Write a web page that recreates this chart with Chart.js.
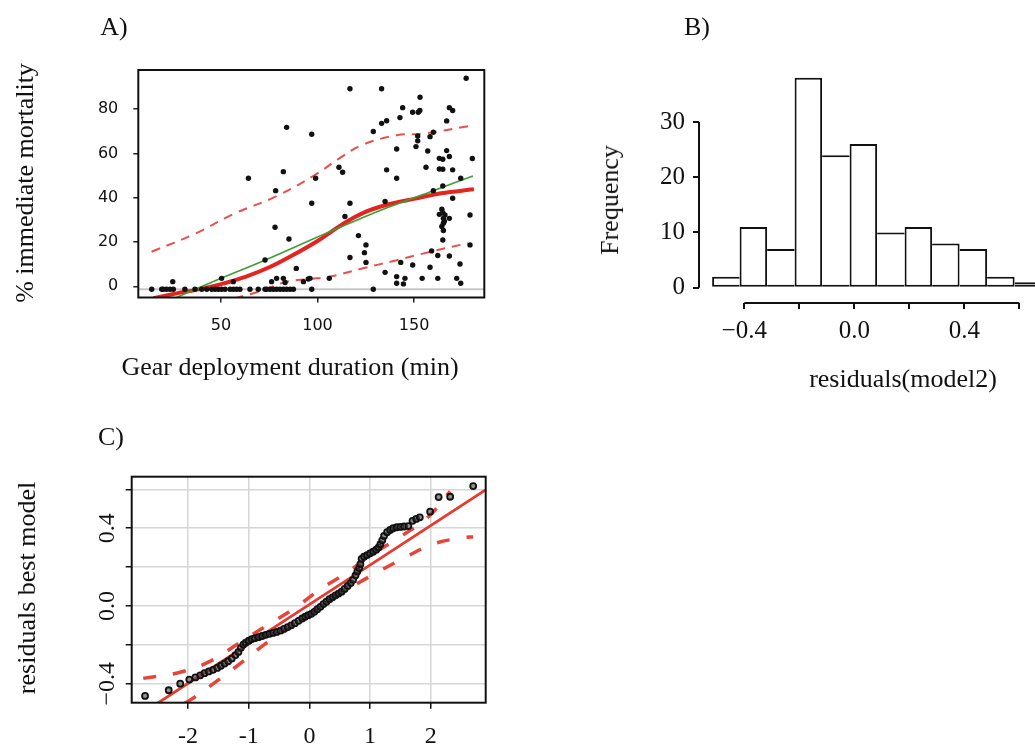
<!DOCTYPE html>
<html>
<head>
<meta charset="utf-8">
<script src="https://cdn.jsdelivr.net/npm/chart.js@4.4.1/dist/chart.umd.min.js"></script>
<style>
  html, body { margin: 0; padding: 0; background: #fff; overflow: hidden; }
  body { width: 1035px; height: 744px; position: relative; font-family: "Liberation Serif", serif; color: #111; }
  canvas { position: absolute; }
  .t { position: absolute; white-space: nowrap; line-height: 1; font-size: 26px; transform: translate(-50%, -50%); }
  .rot { transform: translate(-50%, -50%) rotate(-90deg); }
</style>
</head>
<body>
<canvas id="chartA" width="520" height="400" style="left:0;top:0"></canvas>
<canvas id="chartB" width="455" height="400" style="left:590px;top:0"></canvas>
<canvas id="chartC" width="520" height="324" style="left:0;top:420px"></canvas>

<div class="t" style="left:114px;top:27px">A)</div>
<div class="t" style="left:697px;top:27px">B)</div>
<div class="t" style="left:111px;top:437px">C)</div>
<div class="t rot" style="left:25px;top:183px">% immediate mortality</div>
<div class="t" style="left:290px;top:367px">Gear deployment duration (min)</div>
<div class="t rot" style="left:610px;top:200px">Frequency</div>
<div class="t" style="left:903px;top:379px">residuals(model2)</div>
<div class="t rot" style="left:27px;top:588px">residuals best model</div>

<script>
'use strict';

// ---- A) mortality vs deployment duration ----
const mortX = [
  14.1, 19.3, 20.1, 21.8, 23.6, 25.3, 31.3, 36.5, 40, 42.6, 45.2, 46.9, 48.6, 50.3, 52.1, 54.7,
  56.4, 58.1, 59.8, 65, 69.3, 72.8, 73.7, 75.4, 77.1, 78.8, 80.6, 82.3, 84, 85.8, 87.5, 97, 128.9,
  25, 177, 116.8, 133.2, 153.1, 144.1, 149.3, 152.2, 153, 168.3, 170, 133.2, 135.8, 142.7, 166.9,
  84, 97, 128.9, 151.9, 151.9, 151, 141, 157.1, 158.3, 160, 166.9, 163.1, 164.9, 168.3, 180.2,
  111.1, 113, 82.3, 64.2, 99, 135.8, 141, 156.2, 163.1, 164.9, 170, 174.2, 78.3, 160, 164.9,
  97, 116.8, 135, 170, 164.4, 164.9, 166, 165.2, 165.2, 164.4, 165.2, 165.7, 163.1, 168.3, 179,
  114.2, 78, 121.2, 85.2, 125.1, 124.3, 125.1, 164.9, 179, 72.8, 116.8, 143.1, 149.3, 159.1,
  162.3, 158.3, 168.3, 173.8, 89, 135, 141, 145.3, 141, 144.5, 154.2, 162.3, 172.1, 174.2,
  56.4, 50.3, 76.2, 78.8, 82.3, 83.2, 92.7, 95.2, 96.1, 106.1
];
const mortY = [
  -1.3, -1.3, -1.3, -1.3, -1.3, -1.3, -1.3, -1.3, -1.3, -1.3, -1.3, -1.3, -1.3, -1.3, -1.3, -1.3,
  -1.3, -1.3, -1.3, -1.3, -1.3, -1.3, -1.3, -1.3, -1.3, -1.3, -1.3, -1.3, -1.3, -1.3, -1.3, -1.3, -1.3,
  2.1, 94, 89.2, 89.2, 85.4, 80.7, 78.6, 78.6, 79.4, 80.7, 79.4, 73.6, 74.8, 76.2, 74.7,
  71.8, 68.7, 69.9, 67.9, 65.7, 63.1, 62, 61.1, 67.6, 69.6, 61.3, 57.8, 57.4, 58.6, 57.7,
  53.8, 51.5, 51.8, 48.8, 48.8, 52.6, 48.8, 53.8, 53, 52.9, 52.6, 48.8, 43.2, 43.2, 45.3,
  37.5, 37.5, 38.3, 39.8, 34.8, 33.3, 32.2, 30.7, 28.5, 27, 25.2, 29.4, 32.5, 30.7, 32.2,
  31.5, 26.7, 22.9, 21.4, 18.7, 15.2, 10.8, 20.9, 18.7, 11.9, 13, 10.8, 9.6, 16,
  13.9, 8.6, 13.7, 10.1, 8.1, 6.3, 4.4, 3.6, 1.4, 1.1, 3.6, 3.6, 3.6, 1.4,
  2.1, 3.6, 2.1, 3.6, 3.6, 1.7, 2.1, 3.3, 3.6, 3.6
];
const fitX = [15, 27, 37, 50, 63, 75, 86, 100, 112, 124, 138, 150, 164, 181];
const fitY = [-5.4, -3.2, -1.6, 1, 4.4, 8.6, 13.5, 20.5, 27.5, 33.3, 37.3, 39.5, 42, 43.8];
const linX = [27, 50, 73, 100, 116, 137, 160, 180.5];
const linY = [-5, 3.6, 11.9, 22.3, 28.3, 35.8, 43.2, 49.8];
const upX = [14, 37, 56, 79, 99, 112, 123, 141, 155, 178];
const upY = [15.6, 23.9, 32.5, 40.8, 50.5, 58.2, 63.8, 68.2, 69, 72.3];
const loX = [57, 72, 84, 96, 106.5, 122, 141, 158, 178];
const loY = [-5.5, -1.7, 2.1, 3.3, 4.4, 7.8, 11.8, 15.5, 19.5];
const zeroLineA = -1.3;
const xTicksA = [50, 100, 150];
const yTicksA = [0, 20, 40, 60, 80];

// ---- B) histogram of residuals ----
const binMids = [-0.467, -0.367, -0.267, -0.167, -0.067, 0.033, 0.133, 0.233, 0.333, 0.433, 0.533, 0.633];
const binCounts = [2, 11, 7, 38, 24, 26, 10, 11, 8, 7, 2, 1];
const xTicksB = [-0.4, -0.2, 0, 0.2, 0.4, 0.6];
const xLabelsB = ['\u22120.4', '', '0.0', '', '0.4', ''];
const yTicksB = [0, 10, 20, 30];

// ---- C) normal QQ plot ----
const qqX = [
  -2.71, -2.32, -2.13, -1.98, -1.88, -1.80, -1.73, -1.66, -1.59, -1.52, -1.46, -1.40, -1.34, -1.28,
  -1.22, -1.17, -1.13, -1.09, -1.05, -1.00, -0.95, -0.90, -0.84, -0.78, -0.72, -0.66, -0.60, -0.54,
  -0.48, -0.42, -0.36, -0.30, -0.24, -0.18, -0.12, -0.07, -0.02, 0.03, 0.08, 0.13, 0.18, 0.23, 0.28,
  0.33, 0.38, 0.43, 0.48, 0.53, 0.58, 0.63, 0.68, 0.72, 0.76, 0.79, 0.82, 0.84, 0.86, 0.90, 0.95,
  1.00, 1.05, 1.10, 1.14, 1.17, 1.20, 1.23, 1.28, 1.33, 1.38, 1.44, 1.50, 1.56, 1.63, 1.70, 1.76,
  1.82, 1.99, 2.13, 2.32, 2.70
];
const qqY = [
  -0.462, -0.433, -0.399, -0.378, -0.367, -0.356, -0.345, -0.336, -0.328, -0.318, -0.307, -0.296, -0.284, -0.270,
  -0.252, -0.236, -0.215, -0.198, -0.188, -0.178, -0.170, -0.165, -0.160, -0.154, -0.148, -0.143, -0.138, -0.133,
  -0.126, -0.117, -0.108, -0.099, -0.088, -0.076, -0.064, -0.055, -0.047, -0.040, -0.030, -0.016, -0.004, 0.010, 0.022,
  0.035, 0.045, 0.055, 0.064, 0.074, 0.088, 0.103, 0.118, 0.135, 0.158, 0.178, 0.195, 0.215, 0.243, 0.254, 0.262,
  0.271, 0.279, 0.290, 0.302, 0.318, 0.338, 0.360, 0.380, 0.391, 0.400, 0.405, 0.407, 0.409, 0.411, 0.438, 0.448,
  0.456, 0.485, 0.560, 0.562, 0.617
];
const qqLineX = [-2.93, 2.91];
const qqLineY = [-0.586, 0.598];
const envUpX = [-2.74, -2.1, -1.6, -1.16, -0.69, -0.25, 0.17, 0.6, 1.04, 1.48, 1.96, 2.32];
const envUpY = [-0.372, -0.338, -0.278, -0.19, -0.098, -0.012, 0.084, 0.168, 0.266, 0.353, 0.459, 0.59];
const envLoX = [-2.06, -1.9, -1.5, -1.1, -0.68, -0.21, 0.23, 0.68, 1.11, 1.56, 2.04, 2.57, 2.7];
const envLoY = [-0.5, -0.47, -0.38, -0.286, -0.184, -0.09, 0.005, 0.095, 0.172, 0.247, 0.319, 0.353, 0.355];
const xTicksC = [-2, -1, 0, 1, 2];
const xLabelsC = ['-2', '-1', '0', '1', '2'];
const yTicksC = [-0.4, -0.2, 0, 0.2, 0.4, 0.6];
const yLabelsC = ['\u22120.4', '', '0.0', '', '0.4', ''];

Chart.defaults.font.family = '"Liberation Serif", serif';
Chart.defaults.color = '#111';
Chart.defaults.animation = false;
Chart.defaults.plugins.legend.display = false;
Chart.defaults.plugins.tooltip.enabled = false;

const pts = (xs, ys) => xs.map((x, i) => ({ x: x, y: ys[i] }));
const fixTicks = vals => scale => { scale.ticks = vals.map(v => ({ value: v })); };

function lineSet(xs, ys, color, width, dash, order) {
  return {
    type: 'line', data: pts(xs, ys), borderColor: color, borderWidth: width,
    borderDash: dash, pointRadius: 0, fill: false, tension: 0.4, order: order
  };
}

function drawBox(chart) {
  const { ctx, chartArea: a } = chart;
  ctx.save();
  ctx.strokeStyle = '#111';
  ctx.lineWidth = 2;
  ctx.strokeRect(a.left, a.top, a.right - a.left, a.bottom - a.top);
  ctx.restore();
}

// Panel A
new Chart(document.getElementById('chartA'), {
  type: 'scatter',
  data: {
    datasets: [
      { data: pts(mortX, mortY), pointStyle: 'circle', pointRadius: 2.7, backgroundColor: '#111', borderWidth: 0, order: 0 },
      lineSet(linX, linY, '#3d9e3a', 1.6, [], 1),
      lineSet(fitX, fitY, '#e2261f', 4, [], 2),
      lineSet(upX, upY, '#e8514b', 2, [9, 7], 3),
      lineSet(loX, loY, '#e8514b', 2, [9, 7], 3)
    ]
  },
  options: {
    responsive: false,
    layout: { padding: { left: 0, top: 70, right: 35.7, bottom: 0 } },
    scales: {
      x: {
        type: 'linear', min: 7.15, max: 186.4,
        afterBuildTicks: fixTicks(xTicksA),
        afterFit: s => { s.height = 102.5; },
        grid: { drawOnChartArea: false, tickLength: 5, color: '#222', lineWidth: 1.5 },
        border: { display: false },
        ticks: { font: { family: '"DejaVu Sans"', size: 16 }, color: '#111', padding: 14, maxRotation: 0, autoSkip: false }
      },
      y: {
        type: 'linear', min: -5.05, max: 97.7,
        afterBuildTicks: fixTicks(yTicksA),
        afterFit: s => { s.width = 138.3; },
        grid: { drawOnChartArea: false, tickLength: 5, color: '#222', lineWidth: 1.5 },
        border: { display: false },
        ticks: { font: { family: '"DejaVu Sans"', size: 16 }, color: '#111', padding: 15, autoSkip: false }
      }
    }
  },
  plugins: [{
    id: 'frameA',
    beforeDatasetsDraw(chart) {
      const { ctx, chartArea: a, scales } = chart;
      const py = scales.y.getPixelForValue(zeroLineA);
      ctx.save();
      ctx.strokeStyle = '#c8c8c8';
      ctx.lineWidth = 2;
      ctx.beginPath();
      ctx.moveTo(a.left, py);
      ctx.lineTo(a.right, py);
      ctx.stroke();
      ctx.restore();
    },
    afterDraw: drawBox
  }]
});

// Panel B: only draw a bar side where it is the taller of the two neighbours
function histBorder(c) {
  const i = c.dataIndex;
  const h = binCounts[i];
  const prev = i > 0 ? binCounts[i - 1] : 0;
  const next = i < binCounts.length - 1 ? binCounts[i + 1] : 0;
  return { top: 2, bottom: 2, left: prev <= h ? 2 : 0, right: next < h ? 2 : 0 };
}

new Chart(document.getElementById('chartB'), {
  type: 'bar',
  data: {
    datasets: [{
      data: pts(binMids, binCounts),
      backgroundColor: '#fff', borderColor: '#111',
      borderWidth: histBorder, borderSkipped: false, inflateAmount: 0,
      barPercentage: 1, categoryPercentage: 1
    }]
  },
  options: {
    responsive: false,
    layout: { padding: { left: 0, top: 66.8, right: 0, bottom: 0 } },
    scales: {
      x: {
        type: 'linear', min: -0.5647, max: 0.6935, offset: false,
        afterBuildTicks: fixTicks(xTicksB),
        afterFit: s => { s.height = 97; },
        grid: { offset: false, drawOnChartArea: false, tickLength: 6, color: '#111', lineWidth: 2 },
        border: { display: false },
        ticks: { font: { size: 25 }, padding: 7, maxRotation: 0, autoSkip: false,
                 callback: (v, i) => xLabelsB[i] }
      },
      y: {
        type: 'linear', min: -2.77, max: 40,
        afterBuildTicks: fixTicks(yTicksB),
        afterFit: s => { s.width = 109; },
        grid: { drawOnChartArea: false, tickLength: 6, color: '#111', lineWidth: 2 },
        border: { display: false },
        ticks: { font: { size: 25 }, padding: 8, autoSkip: false }
      }
    }
  },
  plugins: [{
    id: 'axesB',
    afterDraw(chart) {
      const { ctx, chartArea: a, scales: { x, y } } = chart;
      ctx.save();
      ctx.strokeStyle = '#111';
      ctx.lineWidth = 2;
      ctx.beginPath();
      ctx.moveTo(x.getPixelForValue(xTicksB[0]), a.bottom);
      ctx.lineTo(x.getPixelForValue(xTicksB[xTicksB.length - 1]), a.bottom);
      ctx.moveTo(a.left, y.getPixelForValue(yTicksB[0]));
      ctx.lineTo(a.left, y.getPixelForValue(yTicksB[yTicksB.length - 1]));
      ctx.stroke();
      ctx.restore();
    }
  }]
});

// Panel C
new Chart(document.getElementById('chartC'), {
  type: 'scatter',
  data: {
    datasets: [
      { data: pts(qqX, qqY), pointStyle: 'circle', pointRadius: 3, borderColor: '#111', borderWidth: 1.8,
        backgroundColor: 'rgba(70,70,70,0.6)', order: 0 },
      lineSet(qqLineX, qqLineY, '#e53b30', 2.8, [], 1),
      lineSet(envUpX, envUpY, '#e5463b', 3.5, [13, 17], 2),
      lineSet(envLoX, envLoY, '#e5463b', 3.5, [13, 17], 2)
    ]
  },
  options: {
    responsive: false,
    layout: { padding: { left: 0, top: 56.7, right: 34.3, bottom: 0 } },
    scales: {
      x: {
        type: 'linear', min: -2.93, max: 2.906,
        afterBuildTicks: fixTicks(xTicksC),
        afterFit: s => { s.height = 41.3; },
        grid: { color: '#d6d6d6', lineWidth: 1.5, tickLength: 6, tickColor: '#111', tickWidth: 1.5 },
        border: { display: false },
        ticks: { font: { size: 24 }, padding: 14, maxRotation: 0, autoSkip: false,
                 callback: (v, i) => xLabelsC[i] }
      },
      y: {
        type: 'linear', min: -0.497, max: 0.665,
        afterBuildTicks: fixTicks(yTicksC),
        afterFit: s => { s.width = 131.7; },
        grid: { color: '#d6d6d6', lineWidth: 1.5, tickLength: 6, tickColor: '#111', tickWidth: 1.5 },
        border: { display: false },
        ticks: { font: { size: 24 }, padding: -4, minRotation: 90, maxRotation: 90, crossAlign: 'center',
                 autoSkip: false, callback: (v, i) => yLabelsC[i] }
      }
    }
  },
  plugins: [{ id: 'frameC', afterDraw: drawBox }]
});
</script>
</body>
</html>
